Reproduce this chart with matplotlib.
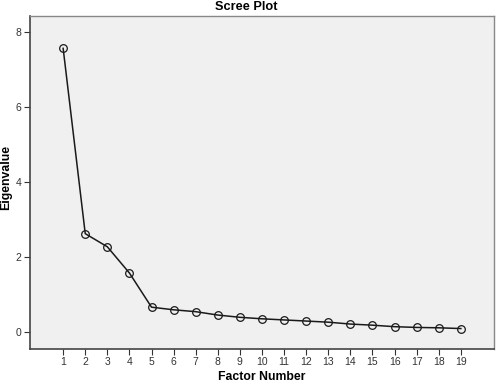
import matplotlib
matplotlib.use("Agg")
import matplotlib.pyplot as plt

plt.rcParams['font.family'] = ['Liberation Sans', 'DejaVu Sans']

factors = list(range(1, 20))
eigenvalues = [7.57, 2.63, 2.28, 1.58, 0.67, 0.60, 0.55, 0.46, 0.40, 0.36,
               0.33, 0.30, 0.27, 0.22, 0.19, 0.15, 0.13, 0.12, 0.10]
y_ticks = [0, 2, 4, 6, 8]

W, H = 496, 384
fig = plt.figure(figsize=(W/100, H/100), dpi=100)
ax = fig.add_axes([30/W, 1 - 349/H, (494-30)/W, (349-15.7)/H])
ax.set_facecolor('#f0f0f0')

ax.plot(factors, eigenvalues, color='#1a1a1a', linewidth=1.1,
        marker='o', markersize=5.5, markerfacecolor='none',
        markeredgecolor='#1a1a1a', markeredgewidth=0.9)

ax.set_xlim(-0.5, 20.5)
ax.set_ylim(-0.445, 8.44)
ax.set_xticks(factors)
ax.set_yticks(y_ticks)
ax.tick_params(axis='both', direction='out', length=4, width=0.8,
               labelsize=7.5, colors='#333333', pad=2)

for side in ['left', 'bottom']:
    ax.spines[side].set_color('#444444')
    ax.spines[side].set_linewidth(1.2)
for side in ['top', 'right']:
    ax.spines[side].set_color('#888888')
    ax.spines[side].set_linewidth(1.0)

fig.text(262/W, 1 - 382.5/H, 'Factor Number', ha='center', va='bottom',
         fontsize=8.8, fontweight='bold')
fig.text(6/W, 1 - 177/H, 'Eigenvalue', ha='center', va='center',
         rotation=90, fontsize=8.8, fontweight='bold')
fig.text(246/W, 1 - 1/H, 'Scree Plot', ha='center', va='top',
         fontsize=9.2, fontweight='bold')

fig.savefig('out.png', dpi=100)
